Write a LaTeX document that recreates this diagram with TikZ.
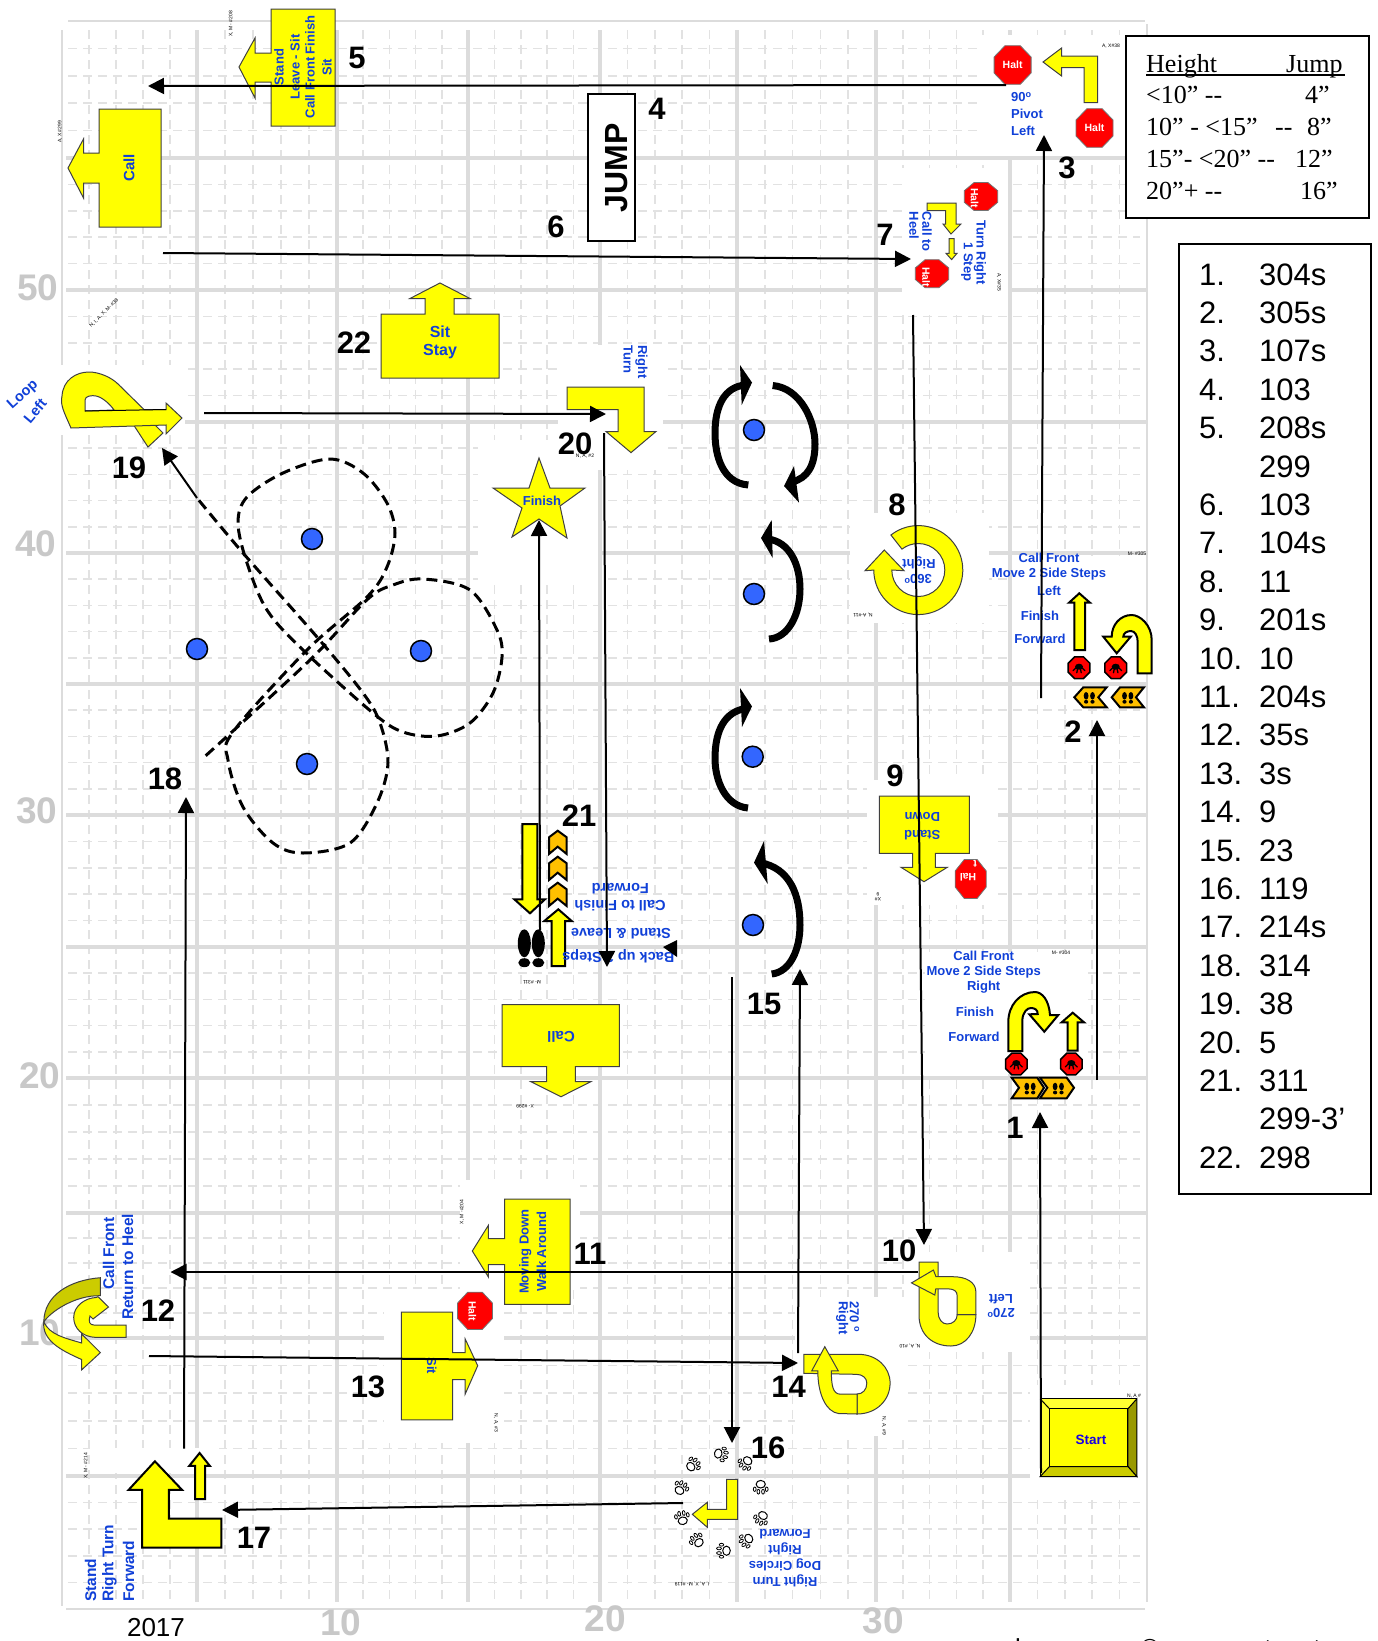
\documentclass[tikz,border=0pt]{standalone}
\usepackage{fontspec}
\setmainfont{Liberation Sans}
\newfontfamily\serf{Liberation Serif}
\usetikzlibrary{arrows.meta}
\definecolor{sblue}{HTML}{1040D8}
\definecolor{sgn}{HTML}{FFFF00}
\definecolor{dot}{HTML}{3366FF}
\definecolor{org}{HTML}{FFC000}
\definecolor{gridc}{HTML}{DCDCDC}
\definecolor{gridm}{HTML}{E2E2E2}
\definecolor{axc}{HTML}{C8C8C8}
\newcommand\octa[5][halt]{\draw[#1] ({#2-#4/2},{#3-#5*.207}) -- ({#2-#4*.207},{#3-#5/2}) -- ({#2+#4*.207},{#3-#5/2}) -- ({#2+#4/2},{#3-#5*.207}) -- ({#2+#4/2},{#3+#5*.207}) -- ({#2+#4*.207},{#3+#5/2}) -- ({#2-#4*.207},{#3+#5/2}) -- ({#2-#4/2},{#3+#5*.207}) -- cycle;}
\tikzset{
 ys/.style={fill=sgn,draw=black!75,line width=1pt,line join=miter},
 yb/.style={fill=sgn,draw=black,line width=2pt,line join=miter},
 orgc/.style={fill=org,draw=black,line width=2pt,line join=miter},
 halt/.style={fill=red,draw=black!55,line width=.8pt},
 halk/.style={fill=red,draw=black,line width=1.5pt},
 bt/.style={font=\fontsize{#1}{#1}\selectfont\bfseries,text=sblue,inner sep=0pt},
 wt/.style={font=\fontsize{10.5}{10.5}\selectfont\bfseries,text=white,inner sep=0pt},
 numl/.style={font=\fontsize{31}{31}\selectfont\bfseries,text=black,inner sep=0pt},
 axl/.style={font=\fontsize{37}{37}\selectfont\bfseries,text=axc,inner sep=0pt},
 tinyl/.style={font=\fontsize{5}{5}\selectfont,text=black,inner sep=0pt},
 tbl/.style={font=\serf\fontsize{26}{26}\selectfont,text=black,inner sep=0pt,anchor=base west},
 lst/.style={font=\fontsize{31}{31}\selectfont,text=black,inner sep=0pt,anchor=base west},
 boxl/.style={draw=black,line width=2pt,fill=white},
 conn/.style={draw=black,line width=2pt,-{Triangle[length=16pt,width=16pt]}},
 pyl/.style={fill=dot,draw=black,line width=1.5pt},
 bendarc/.style={draw=black,line width=7pt,line cap=butt},
 paw/.pic={
   \draw[black,fill=white,line width=1pt] (0,2.5) ellipse (4.6pt and 3.8pt);
   \draw[black,fill=white,line width=.8pt] (-6,-2.5) ellipse (1.4pt and 2.2pt);
   \draw[black,fill=white,line width=.8pt] (-2.3,-5) ellipse (1.4pt and 2.4pt);
   \draw[black,fill=white,line width=.8pt] (2.3,-5) ellipse (1.4pt and 2.4pt);
   \draw[black,fill=white,line width=.8pt] (6,-2.5) ellipse (1.4pt and 2.2pt);
 },
 hand/.pic={
   \fill[black] (0,-1) ellipse (4pt and 3pt);
   \draw[black,line width=1.3pt,line cap=round] (-3,0)--(-6,3) (-1.2,0)--(-2.2,5) (1.2,0)--(2.2,5) (3,0)--(6,3);
 },
 feet/.pic={
   \fill[black] (-3.2,-1.5) ellipse (2.4pt and 3.8pt) (3.2,-1.5) ellipse (2.4pt and 3.8pt);
   \fill[black] (-3.2,4.5) ellipse (2.1pt and 1.9pt) (3.2,4.5) ellipse (2.1pt and 1.9pt);
 }
}
\begin{document}
\begin{tikzpicture}[x=1pt,y=-1pt]
\useasboundingbox (0,0) rectangle (1377,1641);
\fill[white] (0,0) rectangle (1377,1641);
% minor grid
\begin{scope}[draw=gridm,line width=1.6pt,dash pattern=on 9pt off 6pt]
\foreach \a/\b in {62/197,197/337,337/468,468/600,600/737,737/876,876/1010,1010/1147}
  \foreach \k in {1,2,3,4}
    \draw ({\a+(\b-\a)*\k/5},30) -- ({\a+(\b-\a)*\k/5},1602);
\foreach \a/\b in {21/158,158/290,290/422,422/553,553/684,684/815,815/947,947/1078,1078/1213,1213/1338,1338/1476,1476/1609}
  \foreach \k in {1,2,3,4}
    \draw (68,{\a+(\b-\a)*\k/5}) -- (1140,{\a+(\b-\a)*\k/5});
\end{scope}
% major grid
\begin{scope}[draw=gridc,line width=4pt]
\foreach \x in {197,337,468,600,737,876,1010} \draw (\x,30) -- (\x,1602);
\foreach \y in {158,290,422,553,684,815,947,1078,1213,1338,1476} \draw (66,\y) -- (1147,\y);
\end{scope}
\draw[gridc,line width=2.5pt] (68,21) -- (1145,21) (62,30) -- (62,1606) (1147,24) -- (1147,1602) (66,1609) -- (1145,1609);
% white patches
\fill[white] (978,35) rectangle (1140,156);
\fill[white] (902,168) rectangle (1008,312);
\fill[white] (558,345) rectangle (663,470);
\fill[white] (478,440) rectangle (598,580);
\fill[white] (850,513) rectangle (989,623);
\fill[white] (1013,556) rectangle (1140,682);
\fill[white] (867,780) rectangle (998,905);
\fill[white] (925,952) rectangle (1085,1074);
\fill[white] (0,365) rectangle (185,435);
\fill[white] (384,1290) rectangle (504,1443);
\fill[white] (460,1180) rectangle (580,1290);
\fill[white] (905,1252) rectangle (1030,1352);
\fill[white] (795,1297) rectangle (905,1436);
\fill[white] (1030,1385) rectangle (1146,1495);
\fill[white] (90,1448) rectangle (219,1473);
% axis labels
\node[axl] (ax50) at (38,288) {50};
\node[axl] (ax40) at (36,544) {40};
\node[axl] (ax30) at (37,811) {30};
\node[axl] (ax20) at (40,1076) {20};
\node[axl] (ax10l) at (40,1333) {10};
\node[axl] (ax10) at (341,1623) {10};
\node[axl] (ax20b) at (605,1619) {20};
\node[axl] (ax30b) at (883,1621) {30};
\node[font=\fontsize{26}{26}\selectfont,inner sep=0pt] (yr) at (156,1628) {2017};
\foreach \c/\x in {l/1018,©/1150,t/1268,t/1317}
  \node[font=\fontsize{26}{26}\selectfont,inner sep=0pt,anchor=base] at (\x,1657) {\c};
% tables
\draw[boxl] (1126,36) rectangle (1369,217.5);
\node[tbl] (h1) at (1146,72) {Height};
\node[tbl] (h2) at (1286,72) {Jump};
\draw[black,line width=2pt] (1146,75) -- (1345,75);
\node[tbl] (r1a) at (1146,103) {<10” --};
\node[tbl] (r1b) at (1305,103) {4”};
\node[tbl] (r2a) at (1146,135) {10” - <15”};
\node[tbl] (r2c) at (1275,135) {--};
\node[tbl] (r2b) at (1307,135) {8”};
\node[tbl] (r3a) at (1146,167) {15”- <20” --};
\node[tbl] (r3b) at (1295,167) {12”};
\node[tbl] (r4a) at (1146,199) {20”+  --};
\node[tbl] (r4b) at (1300,199) {16”};
\draw[boxl] (1179,244) rectangle (1371,1194);
\foreach \r/\n/\v in {0/1./304s,1/2./305s,2/3./107s,3/4./103,4/5./208s,5//299,6/6./103,7/7./104s,8/8./11,9/9./201s,10/10./10,11/11./204s,12/12./35s,13/13./3s,14/14./9,15/15./23,16/16./119,17/17./214s,18/18./314,19/19./38,20/20./5,21/21./311,22//299-3’,23/22./298}{
  \node[lst] (ln\r) at (1199,{285+\r*38.4}) {\n};
  \node[lst] (lv\r) at (1259,{285+\r*38.4}) {\v};
}
% sign 5
\draw[ys] (271,9)--(335,9)--(335,126)--(271,126)--(271,82)--(255,82)--(255,98)--(239,67)--(255,38)--(255,53)--(271,53)--cycle;
\node[bt=13,rotate=90] (s5a) at (279,67) {Stand};
\node[bt=13,rotate=90] (s5b) at (295,67) {Leave - Sit};
\node[bt=13,rotate=90] (s5c) at (310,67) {Call Front Finish};
\node[bt=13,rotate=90] (s5d) at (327,67) {Sit};
% call top
\draw[ys] (99,109)--(161,109)--(161,227)--(99,227)--(99,183)--(83.5,183)--(83.5,198)--(68,168)--(83.5,139)--(83.5,153)--(99,153)--cycle;
\node[bt=15,rotate=90] (call1) at (129,168) {Call};
% jump
\draw[boxl] (588,94) rectangle (635,241);
\node[rotate=90,font=\fontsize{32}{32}\selectfont\bfseries,inner sep=0pt] (jump) at (617,168) {JUMP};
% sign 3
\octa{1012.6}{65}{37}{38.6}
\node[wt] (h3a) at (1012.6,65) {Halt};
\octa{1094.5}{128}{37}{38.6}
\node[wt] (h3b) at (1094.5,128) {Halt};
\begin{scope}[shift={(-1,1)}]
\draw[ys] (1044,61)--(1062.6,47)--(1062.6,55)--(1098.6,55)--(1098.6,101.7)--(1085,101.7)--(1085,66.7)--(1062.6,66.7)--(1062.6,75)--cycle;
\end{scope}
\node[bt=13,anchor=west] (s3a) at (1011,97) {90\textsuperscript{o}};
\node[bt=13,anchor=west] (s3b) at (1011,113.5) {Pivot};
\node[bt=13,anchor=west] (s3c) at (1011,130.5) {Left};
% sign 7
\octa{981}{196.5}{33.4}{28}
\node[wt,rotate=-90] (h7a) at (974.5,198) {Halt};
\octa{932}{273.7}{33.4}{28}
\node[wt,rotate=-90] (h7b) at (926,277) {Halt};
\draw[ys] (927,203)--(956,203)--(956,224)--(961,224)--(951,234)--(943,224)--(945.5,224)--(945.5,210.5)--(927,210.5)--cycle;
\draw[ys] (949,238.6)--(954,238.6)--(954,253.3)--(957,253.3)--(951.6,259.6)--(946,253.3)--(949,253.3)--cycle;
\node[bt=13,rotate=-90,anchor=west] (s7a) at (927,211.6) {Call to};
\node[bt=13,rotate=-90,anchor=west] (s7b) at (914,211.6) {Heel};
\node[bt=13,rotate=-90] (s7c) at (980,252.6) {Turn Right};
\node[bt=13,rotate=-90] (s7d) at (967,262) {1 Step};
% sit stay
\draw[ys] (381,314)--(425,314)--(425,298.5)--(410,298.5)--(440,283)--(470,298.5)--(454,298.5)--(454,314)--(499,314)--(499,378)--(381,378)--cycle;
\node[bt=16] (s22a) at (440,332) {Sit};
\node[bt=16] (s22b) at (440,352) {Stay};
% loop left
\draw[ys] (118,384)--(155,425)--(163,433)--(148,447)--(133,424)--(120,412)--(105,395)--cycle;
\draw[ys] (71,428) .. controls (64,412) and (60,405) .. (62,396) .. controls (63,380) and (76,372) .. (89,372) .. controls (100,372) and (112,378) .. (118,384) -- (144,409.5) -- (166,409.5) -- (166,403) -- (182,418) -- (166,434) -- (166,425) -- cycle;
\draw[ys,fill=white] (85,411) -- (85,400) .. controls (85,396) and (92,395) .. (96,396) .. controls (102,397) and (110,404) .. (114,410) -- cycle;
\draw[black,line width=1pt] (85,411) -- (166,409.5);
\node[bt=14.5,rotate=42] (s19a) at (23,395) {Loop};
\node[bt=14.5,rotate=50] (s19b) at (35,411) {Left};
% right turn 20
\draw[ys] (567,387)--(644,387)--(644,431.5)--(656,431.5)--(631,452.6)--(606,431.5)--(618,431.5)--(618,409.5)--(567,409.5)--cycle;
\node[bt=13,rotate=-90,anchor=west] (s20a) at (641.5,345) {Right};
\node[bt=13,rotate=-90,anchor=west] (s20b) at (628,345) {Turn};
% star
\draw[ys] (539,458)--(550,488)--(585,488)--(560,506)--(567,538)--(539,519)--(512,537)--(522,508)--(493,488)--(529,488)--cycle;
\node[bt=13] (finish) at (542,501) {Finish};
% pylons
\foreach \n/\x/\y in {a/312/539,b/197/649,c/421/651,d/307/764,e/754/430,f/754/594,g/752.7/756.7,h/753/925}
  \draw[pyl] (\x,\y) circle (10.5pt);
% bent arrows
\draw[bendarc] (748.3,485) .. controls (722,483) and (715,455) .. (715,433) .. controls (715,405) and (725,387) .. (745,385);
\fill[black] (752,382.5)--(740,365)--(741.7,405)--cycle;
\draw[bendarc] (772.7,385.5) .. controls (800,388) and (815,420) .. (815,444) .. controls (815,465) and (808,478) .. (792,482);
\fill[black] (784,486)--(794,466)--(799,502.6)--cycle;
\draw[bendarc] (769,639) .. controls (788,638) and (800,615) .. (800,589) .. controls (800,565) and (790,542) .. (768,539);
\fill[black] (761,538)--(771.7,520)--(772.7,558)--cycle;
\draw[bendarc] (748,808) .. controls (725,806) and (715,780) .. (715,758.5) .. controls (715,730) and (725,712) .. (745,708.6);
\fill[black] (752,706.4)--(740,688)--(742,727)--cycle;
\draw[bendarc] (771.7,974) .. controls (790,972) and (800,950) .. (800,925) .. controls (800,895) and (790,868) .. (760,862.6);
\fill[black] (754,862.6)--(764,841)--(767.7,884)--cycle;
% sign 8
\draw[ys] (890.9,535) arc[start angle=128,end angle=-180,radius=44.5pt] -- (865,570.7) -- (884.3,550) -- (904,570.7) -- (891.8,570) arc[start angle=-180,end angle=128,radius=26.5pt] -- cycle;
\node[bt=13,rotate=180] (s8a) at (919,563) {Right};
\node[bt=13,rotate=180] (s8b) at (918,579) {360\textsuperscript{o}};
% sign 2
\node[bt=13] (s2a) at (1049,558) {Call Front};
\node[bt=13] (s2b) at (1049,574.5) {Move 2 Side Steps};
\node[bt=13] (s2c) at (1049,590.7) {Left};
\node[bt=13] (s2d) at (1040,615.7) {Finish};
\node[bt=13] (s2e) at (1040,639) {Forward};
\draw[yb] (1074.3,650)--(1085,650)--(1085,602.7)--(1090,602.7)--(1079.3,593.3)--(1069,602.7)--(1074.3,602.7)--cycle;
\draw[yb] (1137.7,673.3) -- (1151.7,673.3) -- (1151.7,640) .. controls (1151.7,625) and (1140,615) .. (1131.7,615) .. controls (1120,615) and (1111.7,625) .. (1111.7,636.7) -- (1103.3,636.7) -- (1116.7,653.3) -- (1130.7,636.7) -- (1123.3,636.7) .. controls (1123.3,633) and (1127,631) .. (1131,631) .. controls (1135,631) and (1137.7,636) .. (1137.7,642) -- cycle;
\octa[halk]{1079}{667.7}{21.6}{21.6}
\octa[halk]{1115.7}{667.7}{21.6}{21.6}
\pic at (1079,667.7) {hand};
\pic at (1115.7,667.7) {hand};
\draw[orgc] (1074.3,697.3)--(1083.3,687.3)--(1106.7,687.3)--(1098.3,697.3)--(1106.7,707.3)--(1083.3,707.3)--cycle;
\draw[orgc] (1111.7,697.3)--(1120,687.3)--(1144,687.3)--(1136,697.3)--(1144,707.3)--(1120,707.3)--cycle;
\pic at (1089.3,697.3) {feet};
\pic at (1127.7,697.3) {feet};
% sign 1
\node[bt=13] (s1a) at (983.7,955.7) {Call Front};
\node[bt=13] (s1b) at (983.7,971.7) {Move 2 Side Steps};
\node[bt=13] (s1c) at (983.7,987.3) {Right};
\node[bt=13] (s1d) at (975,1012.3) {Finish};
\node[bt=13] (s1e) at (974,1037.3) {Forward};
\draw[yb] (1067.7,1050.7)--(1077.7,1050.7)--(1077.7,1022.3)--(1084,1022.3)--(1072.7,1012.7)--(1061.7,1022.3)--(1067.7,1022.3)--cycle;
\draw[yb] (1008.3,1051)--(1022.3,1051)--(1022.3,1020) .. controls (1023,1012) and (1027,1008) .. (1031,1008) .. controls (1035,1008) and (1037.7,1010) .. (1037.7,1014) -- (1029.3,1014.3)-- (1044.3,1031.7) -- (1058.3,1015) -- (1050,1015) .. controls (1049,1000) and (1042,992) .. (1035,992) .. controls (1020,992) and (1008.3,1005) .. (1008.3,1022) -- cycle;
\octa[halk]{1016.3}{1064}{21.6}{21.6}
\octa[halk]{1071.3}{1064}{21.6}{21.6}
\pic at (1016.3,1064) {hand};
\pic at (1071.3,1064) {hand};
\draw[orgc] (1011.7,1077.7)--(1037.3,1077.7)--(1044,1087.7)--(1037.3,1098.3)--(1011.7,1098.3)--(1019,1087.7)--cycle;
\draw[orgc] (1040,1077.7)--(1066.7,1077.7)--(1074,1087.7)--(1066.7,1098.3)--(1040,1098.3)--(1047.3,1087.7)--cycle;
\pic at (1030,1088) {feet};
\pic at (1058.3,1088) {feet};
% sign 9
\draw[ys] (879.3,796)--(969.3,796)--(969.3,853.3)--(935.3,853.3)--(935.3,867.3)--(947.3,867.3)--(924,881.7)--(901,867.3)--(912.7,867.3)--(912.7,853.3)--(879.3,853.3)--cycle;
\node[bt=13,rotate=180] (s9a) at (922.3,835) {Stand};
\node[bt=13,rotate=180] (s9b) at (922.3,817.3) {Down};
\octa{970.7}{879}{31}{39}
\node[wt,rotate=180] (h9a) at (968,877.7) {Hal};
\node[wt,rotate=180] (h9b) at (975,864) {t};
% call flipped
\draw[ys] (502,1004.7)--(619.3,1004.7)--(619.3,1066.7)--(575.3,1066.7)--(575.3,1081.7)--(590.7,1081.7)--(561,1096.7)--(531,1081.7)--(546.7,1081.7)--(546.7,1066.7)--(502,1066.7)--cycle;
\node[bt=15,rotate=180] (call2) at (561,1036.7) {Call};
% sign 21
\draw[yb] (522.3,824)--(537.3,824)--(537.3,899.3)--(545,899.3)--(530,913.3)--(514.3,899.3)--(522.3,899.3)--cycle;
\draw[yb] (551.7,966)--(565,966)--(565,921)--(571.7,921)--(558.3,909.3)--(544.3,921)--(551.7,921)--cycle;
\foreach \d in {0,26,52}
  \draw[orgc] (557.7,830.7+\d)--(566.7,837.3+\d)--(566.7,854+\d)--(557.7,846.7+\d)--(549,854+\d)--(549,837.3+\d)--cycle;
\fill[black] (524.3,943.3) ellipse (6.5pt and 14pt) (538.3,943.3) ellipse (6.5pt and 14pt);
\fill[black] (524.3,962.7) ellipse (6pt and 4.5pt) (538.3,962.7) ellipse (6pt and 4.5pt);
\node[bt=14.5,rotate=180] (s21a) at (618.3,956.7) {Back up 2 Steps};
\node[bt=14.5,rotate=180] (s21b) at (621,934) {Stand \& Leave};
\node[bt=14.5,rotate=180] (s21c) at (620,905.7) {Call to Finish};
\node[bt=14.5,rotate=180] (s21d) at (620.3,888.3) {Forward};
\fill[black] (663,947)--(677,940)--(677,957)--cycle;
% sign 11
\draw[ys] (504.5,1199)--(570,1199)--(570,1304.3)--(504.5,1304.3)--(504.5,1264.6)--(488.4,1264.6)--(488.4,1277)--(472.3,1251)--(488.4,1225.3)--(488.4,1238.7)--(504.5,1238.7)--cycle;
\node[bt=13,rotate=90] (s11a) at (525.4,1251.7) {Moving Down};
\node[bt=13,rotate=90] (s11b) at (541.5,1251.7) {Walk Around};
% sign 12
\draw[ys] (43.8,1322) .. controls (50,1335) and (65,1338) .. (81.7,1343) -- (81.7,1334) -- (100.4,1352.6) -- (81.7,1369.8) -- (81.7,1359.5) .. controls (60,1350) and (42,1340) .. (43.8,1322) -- cycle;
\draw[ys,fill=sgn!80!black] (100.4,1277.7) .. controls (70,1280) and (44,1295) .. (43.8,1322) .. controls (50,1312) and (75,1295) .. (100.4,1295.7) -- cycle;
\draw[ys] (126,1325)--(126,1337.4)--(96,1337.4) .. controls (82,1337) and (73.7,1328) .. (73.7,1317.4) .. controls (73.7,1306) and (85,1298) .. (96,1297.5) -- (98,1296.7) -- (108.5,1307) -- (93,1319) -- (90,1316) .. controls (88,1322) and (90,1325) .. (94,1325) -- cycle;
\node[bt=15.5,rotate=90] (s12a) at (108.5,1253.6) {Call Front};
\node[bt=15.5,rotate=90] (s12b) at (127.7,1267) {Return to Heel};
% sign 13
\draw[ys] (401.3,1312.2)--(452.7,1312.2)--(452.7,1352.6)--(465.2,1352.6)--(465.2,1339)--(477.7,1365.7)--(465.2,1394)--(465.2,1379.5)--(452.7,1379.5)--(452.7,1419.9)--(401.3,1419.9)--cycle;
\node[bt=13,rotate=-90] (s13) at (431.7,1365.7) {Sit};
\octa{475}{1310.8}{35}{37.3}
\node[wt,rotate=-90] (h13) at (472.3,1311) {Halt};
% sign 10
\begin{scope}[shift={(-2,0)}]
\draw[ys] (921,1262.2)--(940.1,1262.2)--(940.1,1312) .. controls (940.1,1319) and (944,1324) .. (949,1324) .. controls (955,1324) and (959.2,1320) .. (959.2,1314.6) -- (977.9,1314.6) .. controls (977.9,1332) and (968,1346) .. (953,1346) .. controls (935,1346) and (921,1335) .. (921,1315) -- cycle;
\draw[ys] (977.9,1314.6) -- (977.9,1292) .. controls (977.9,1282) and (968,1276.7) .. (955,1276.7) -- (938,1276.7) -- (935.4,1270) -- (913.5,1282.9) -- (936.8,1295) -- (937.8,1288.8) -- (950,1288.8) .. controls (956,1289) and (959.2,1291) .. (959.2,1296) -- (959.2,1314.6) -- cycle;
\node[bt=13,rotate=180] (s10a) at (1003,1299) {Left};
\node[bt=13,rotate=180] (s10b) at (1003,1313) {270\textsuperscript{o}};
\end{scope}
% sign 14
\begin{scope}[shift={(-1.5,0)}]
\draw[ys] (805.3,1354.3) -- (860,1354.3) .. controls (878,1354.3) and (891.6,1367) .. (891.6,1383) .. controls (891.6,1400) and (878,1414) .. (858.5,1414) -- (858.5,1394) .. controls (864,1394) and (868.3,1390) .. (868.3,1383) .. controls (868.3,1378) and (864,1374.3) .. (857.6,1374.3) -- (805.3,1373.3) -- cycle;
\draw[ys] (858.5,1414) -- (840,1413.5) .. controls (828,1412) and (819.3,1395) .. (819.3,1370.9) -- (813.2,1370.9) -- (826.3,1346.7) -- (839.8,1370.9) -- (832.8,1370.9) .. controls (833,1385) and (834,1394) .. (842,1394.2) -- (858.5,1394) -- cycle;
\node[bt=13,rotate=-90,anchor=west] (s14a) at (856,1301) {270 \textsuperscript{o}};
\node[bt=13,rotate=-90,anchor=west] (s14b) at (843.6,1301) {Right};
\end{scope}
% start
\begin{scope}[shift={(-2.5,0)}]
\draw[black,line width=1pt,fill=sgn!80!white] (1042.7,1398.8) rectangle (1139.3,1476.5);
\draw[black,line width=1pt,fill=sgn!60!black] (1139.3,1398.8)--(1139.3,1476.5)--(1130.4,1466.5)--(1130.4,1408.8)--cycle;
\draw[black,line width=1pt,fill=sgn!80!black] (1042.7,1476.5)--(1139.3,1476.5)--(1130.4,1466.5)--(1052,1466.5)--cycle;
\draw[black,line width=1pt,fill=sgn] (1052,1408.8) rectangle (1130.4,1466.5);
\draw[black,line width=1pt] (1042.7,1398.8)--(1052,1408.8);
\node[font=\fontsize{13.5}{13.5}\selectfont\bfseries,text=blue!90!red,inner sep=0pt] (start) at (1093.6,1440) {Start};
\end{scope}
% sign 16
\draw[ys] (726.7,1479.3)--(737.7,1479.3)--(737.7,1519.3)--(707.3,1519.3)--(707.3,1527.3)--(692.3,1514.3)--(707.3,1502.3)--(707.3,1509.3)--(726.7,1509.3)--cycle;
\foreach \x/\y/\r in {720.7/1454/-100,746/1462.7/140,760.7/1486.7/180,761.7/1517.7/150,746.7/1540/125,724/1550.7/90,697.3/1540.7/40,682.3/1518.3/10,680.7/1488.3/-30,692.7/1465/-50}
  \pic[rotate=\r] at (\x,\y) {paw};
\node[bt=13,rotate=180] (s16a) at (785,1533.8) {Forward};
\node[bt=13,rotate=180] (s16b) at (785,1548.8) {Right};
\node[bt=13,rotate=180] (s16c) at (785,1564.5) {Dog Circles};
\node[bt=13,rotate=180] (s16d) at (785,1581) {Right Turn};
% sign 17
\draw[yb] (154.9,1461.3)--(182.1,1489.9)--(168.8,1489.9)--(168.8,1518.6)--(221.4,1518.6)--(221.4,1547.5)--(142,1547.5)--(142,1489.9)--(128.6,1489.9)--cycle;
\draw[yb] (195,1499.2)--(205,1499.2)--(205,1465.8)--(209.8,1465.8)--(199.6,1453)--(189.3,1465.8)--(195,1465.8)--cycle;
\node[bt=15.5,rotate=90,anchor=west] (s17a) at (90.6,1602) {Stand};
\node[bt=15.5,rotate=90,anchor=west] (s17b) at (109.4,1602) {Right Turn};
\node[bt=15.5,rotate=90,anchor=west] (s17c) at (128.6,1602) {Forward};
% tiny labels
\node[tinyl,rotate=90] (t1) at (231,24) {X, M - \#208};
\node[tinyl,rotate=90] (t2) at (60,132) {A, X \#299};
\node[tinyl,rotate=45] (t3) at (104,313) {N, I, A, X, M- \#38};
\node[tinyl] (t4) at (585,456) {N, A, \#2};
\node[tinyl] (t5) at (1111,46) {A, X\#38};
\node[tinyl,rotate=-90] (t6) at (999,282) {A, X\#35};
\node[tinyl] (t7) at (1137,554) {M- \#305};
\node[tinyl,rotate=180] (t8) at (863,615) {N, A-\#11};
\node[tinyl] (t9) at (1061,953) {M- \#304};
\node[tinyl,rotate=180,align=center] (t10) at (878,897) {X\#\\9};
\node[tinyl,rotate=180] (t11) at (532,982) {M- \#311};
\node[tinyl,rotate=180] (t12) at (525,1106) {X- \#299};
\node[tinyl,rotate=90] (t13) at (462,1212) {X, M -\#204};
\node[tinyl,rotate=-90] (t14) at (496,1423) {N, A, \#3};
\node[tinyl,rotate=90] (t15) at (86,1466) {X, M - \#214};
\node[tinyl,rotate=180] (t16) at (692,1584) {I, A, X, M- \#119};
\node[tinyl,rotate=-90] (t17) at (884,1426) {N, A, \#9};
\node[tinyl,rotate=180] (t18) at (910,1346) {N, A, \#10};
\node[tinyl] (t19) at (1134,1396) {N, A \#};
% numbers
\foreach \t/\x/\y in {5/357/58,4/657/109,3/1067/168,6/556/227,7/885/235,22/354/343,19/129/468,20/575/444,8/897/505,2/1073/732,1/1015/1128,9/895/776,21/579/816,15/764/1004,18/165/779,11/590/1253.5,12/158/1311,13/368/1387,10/899/1251,14/788.5/1387,16/768/1448,17/254/1538}
  \node[numl] (num\t) at (\x,\y) {\t};
% connector ends
\foreach \n/\x/\y in {a1/1041/1473,b1/1040/1112,a2/1097/1080,b2/1097/720,a3/1041/698,b3/1044/135,a4/1006/85,b4/148/86,a6/163/253,b6/911/259,a8/913/315,b8/924/1245,a11/918/1272,b11/170.5/1272,a13/149/1356,b13/798/1363,a14/798/1353,b14/800/969,a15/732/977,b15/732/1443,a16/683/1503,b16/222/1510,a17/184/1448.5,b17/186/797,a18/197/498,b18/162/448,a19/204/413,b19/606/414,a20/604/433,b20/607/967,a21/540/930,b21/539/520}
  \coordinate (\n) at (\x,\y);
\foreach \n in {1,2,3,4,6,8,11,13,14,15,16,17,18,19,20,21}
  \draw[conn] (a\n) -- (b\n);
% dashed figure
\draw[black,line width=3pt,dash pattern=on 11pt off 6pt] plot[smooth,tension=.55] coordinates {(205.7,755.7) (310,660) (366.7,600) (393,585) (423,579) (470,590) (497,630) (502,657) (493,693) (470,723) (437,736) (403,732) (373,713) (303,650) (267,610) (247,563) (238,523) (247,497) (283,473) (330,459) (363,473) (387,503) (395,533) (387,567) (367,597) (307,650) (233,732) (228,760) (243,807) (273,843) (303,853) (350,843) (377,803) (388,763) (380,723) (363,693) (317,637) (243,553) (197,498)};
\end{tikzpicture}
\end{document}
